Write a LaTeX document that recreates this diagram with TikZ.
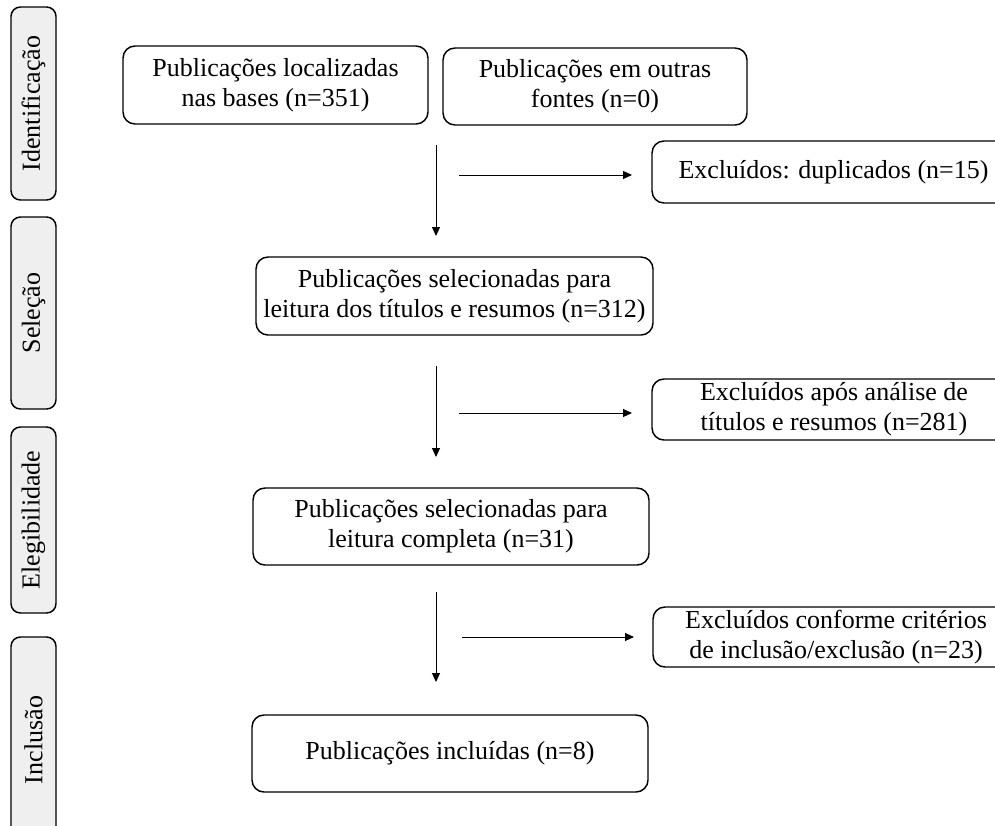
\documentclass[tikz,border=0pt]{standalone}
\usepackage{fontspec}
\setmainfont{Liberation Serif}
\usetikzlibrary{arrows.meta}
\definecolor{sidegray}{HTML}{EFEFEF}
\newcommand\boxfont{\fontsize{19.5pt}{22.5pt}\selectfont}
\begin{document}
\begin{tikzpicture}[x=0.75pt,y=-0.75pt,
  box/.style={draw, line width=1.1pt, rounded corners=9pt, align=center, inner sep=0pt, font=\boxfont},
  side/.style={draw, line width=1.1pt, rounded corners=7pt, fill=sidegray, inner sep=0pt,
    rotate=90, minimum height=33.75pt, font=\boxfont},
  flow/.style={line width=0.75pt, -{Triangle[length=6.75pt,width=6pt]}}]
\useasboundingbox (0,0) rectangle (995,825);
\clip (0,0) rectangle (995,825);
% phase labels
\node[side, minimum width=144.75pt] (sid) at (33.5,103.5) {Identificação};
\node[side, minimum width=144pt]    (sse) at (33.5,313)   {Seleção};
\node[side, minimum width=139.5pt]  (sel) at (33.5,520)   {Elegibilidade};
\node[side, minimum width=154.5pt]  (sin) at (33.5,740)   {Inclusão};
% main boxes
\node[box, minimum width=228.75pt, minimum height=58.5pt] (b1) at (275.5,85) {Publicações localizadas\\nas bases (n=351)};
\node[box, minimum width=228pt, minimum height=57.75pt] (b2) at (595,86.5) {Publicações em outras\\fontes (n=0)};
\node[box, minimum width=297.75pt, minimum height=58.5pt] (b3) at (454.5,296) {Publicações selecionadas para\\leitura dos títulos e resumos (n=312)};
\node[box, minimum width=297pt, minimum height=57.75pt] (b4) at (451,526.5) {Publicações selecionadas para\\leitura completa (n=31)};
\node[box, minimum width=297pt, minimum height=57.75pt] (b5) at (450,753.5) {Publicações incluídas (n=8)};
% excluded boxes
\node[box, minimum width=272.25pt, minimum height=46.5pt] (e1) at (833.5,172) {Excluídos: duplicados (n=15)};
\node[box, minimum width=273pt, minimum height=45.75pt] (e2) at (834,409.5) {Excluídos após análise de\\títulos e resumos (n=281)};
\node[box, minimum width=274.5pt, minimum height=45pt] (e3) at (836,637) {Excluídos conforme critérios\\de inclusão/exclusão (n=23)};
% arrow end points
\coordinate (v1s) at (436,145); \coordinate (v1e) at (436,236);
\coordinate (h1s) at (459,175); \coordinate (h1e) at (632,175);
\coordinate (v2s) at (436,366); \coordinate (v2e) at (436,457);
\coordinate (h2s) at (459,413); \coordinate (h2e) at (632,413);
\coordinate (v3s) at (436,592); \coordinate (v3e) at (436,682);
\coordinate (h3s) at (462,637); \coordinate (h3e) at (634,637);
\draw[flow] (v1s) -- (v1e);
\draw[flow] (h1s) -- (h1e);
\draw[flow] (v2s) -- (v2e);
\draw[flow] (h2s) -- (h2e);
\draw[flow] (v3s) -- (v3e);
\draw[flow] (h3s) -- (h3e);
\end{tikzpicture}
\end{document}
